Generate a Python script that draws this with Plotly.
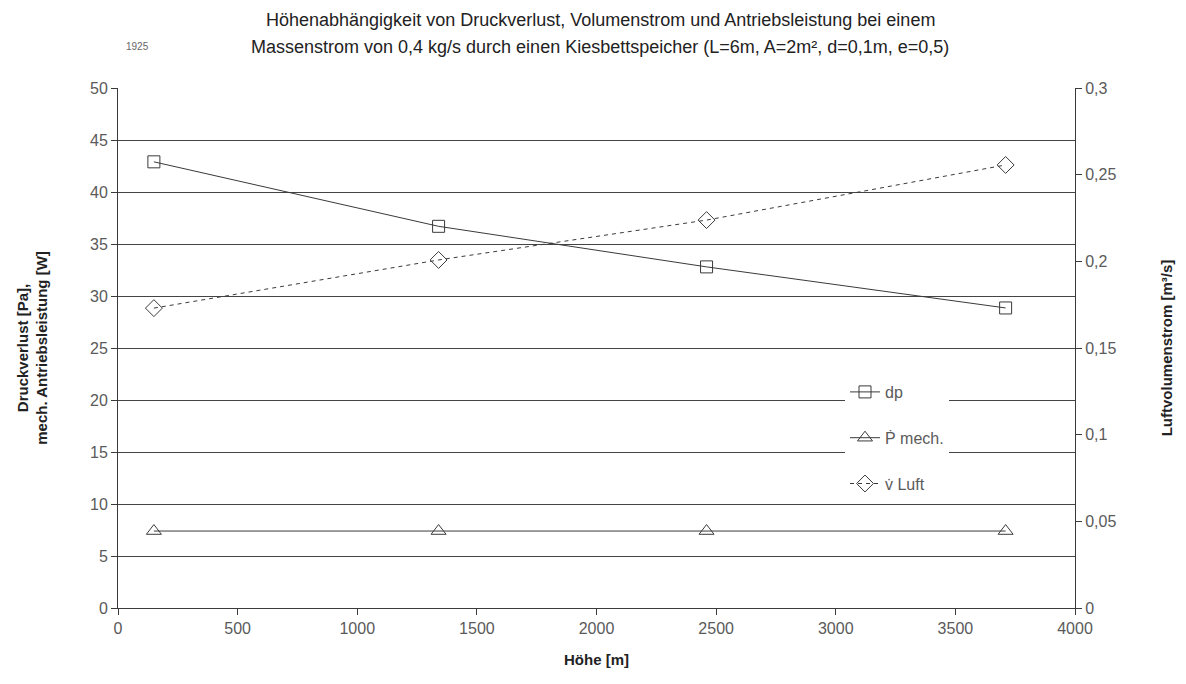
import plotly.graph_objects as go

hoehe = [150, 1340, 2460, 3710]
dp = [42.9, 36.7, 32.8, 28.85]
p_mech = [7.4, 7.4, 7.4, 7.4]
v_luft = [0.173, 0.2008, 0.2238, 0.2556]

left_ticks = list(range(0, 55, 5))
right_ticks = [0, 0.05, 0.1, 0.15, 0.2, 0.25, 0.3]
right_labels = ["0", "0,05", "0,1", "0,15", "0,2", "0,25", "0,3"]

title_lines = [
    "Höhenabhängigkeit von Druckverlust, Volumenstrom und Antriebsleistung bei einem",
    "Massenstrom von 0,4 kg/s durch einen Kiesbettspeicher (L=6m, A=2m², d=0,1m, e=0,5)",
]

FONT = "Liberation Sans, Arial, sans-serif"
LINE = "#3a3a3a"
TICKC = "#5a5a5a"

# plot area geometry (pixels)
L, R, T, B = 118, 1075, 88, 608
W, H = R - L, B - T

def px_to_paper(x, y):
    return (x - L) / W, (B - y) / H

fig = go.Figure()
fig.add_trace(go.Scatter(
    x=hoehe, y=dp, name="dp", mode="lines+markers", legendgroup="a",
    line=dict(color=LINE, width=1),
    marker=dict(symbol="square-open", size=12, color=LINE, line=dict(width=1)),
))
fig.add_trace(go.Scatter(
    x=hoehe, y=p_mech, name="Ṗ mech.", mode="lines+markers", legendgroup="b",
    line=dict(color=LINE, width=1),
    marker=dict(symbol="triangle-up-open", size=13, color=LINE, line=dict(width=1)),
))
fig.add_trace(go.Scatter(
    x=hoehe, y=v_luft, name="v̇ Luft", mode="lines+markers", yaxis="y2", legendgroup="c",
    line=dict(color=LINE, width=1, dash="4px,4px"),
    marker=dict(symbol="diamond-open", size=13, color=LINE, line=dict(width=1)),
))

ann = []
for txt, ypx in zip(title_lines, [20, 47]):
    xp, yp = px_to_paper(600, ypx)
    ann.append(dict(text=txt, x=xp, y=yp, xref="paper", yref="paper",
                    xanchor="center", yanchor="middle", showarrow=False,
                    font=dict(family=FONT, size=18, color="#222222")))
xp, yp = px_to_paper(137, 46)
ann.append(dict(text="1925", x=xp, y=yp, xref="paper", yref="paper",
                xanchor="center", yanchor="middle", showarrow=False,
                font=dict(family=FONT, size=10, color="#666666")))

fig.update_layout(
    width=1186, height=684,
    margin=dict(l=L, r=1186 - R, t=T, b=684 - B),
    paper_bgcolor="white", plot_bgcolor="white",
    font=dict(family=FONT, size=16, color=TICKC),
    xaxis=dict(
        range=[0, 4000], tickvals=list(range(0, 4500, 500)),
        showgrid=False, zeroline=False,
        showline=True, linecolor=LINE, linewidth=1,
        ticks="outside", ticklen=6, tickcolor=LINE,
        tickfont=dict(size=16, color=TICKC),
        title=dict(text="<b>Höhe [m]</b>", font=dict(size=15, color="#222222"), standoff=18),
    ),
    yaxis=dict(
        range=[0, 50], tickvals=left_ticks,
        showgrid=True, gridcolor="#444444", gridwidth=1, zeroline=False,
        showline=True, linecolor=LINE, linewidth=1,
        ticks="outside", ticklen=6, tickcolor=LINE,
        tickfont=dict(size=16, color=TICKC),
        title=dict(text="<b>Druckverlust [Pa],<br>mech. Antriebsleistung [W]</b>",
                   font=dict(size=15, color="#222222"), standoff=38),
    ),
    yaxis2=dict(
        range=[0, 0.3], tickvals=right_ticks, ticktext=right_labels,
        overlaying="y", side="right", showgrid=False, zeroline=False,
        showline=True, linecolor=LINE, linewidth=1,
        ticks="outside", ticklen=6, tickcolor=LINE,
        tickfont=dict(size=16, color=TICKC),
        title=dict(text="<b>Luftvolumenstrom [m³/s]</b>",
                   font=dict(size=15, color="#222222"), standoff=46),
    ),
    legend=dict(
        x=px_to_paper(845, 0)[0], y=px_to_paper(0, 375)[1],
        xanchor="left", yanchor="top",
        bgcolor="white", borderwidth=0,
        font=dict(size=16, color=TICKC),
        traceorder="grouped", tracegroupgap=22,
    ),
    showlegend=True,
    annotations=ann,
)

fig.write_html("out.html")
